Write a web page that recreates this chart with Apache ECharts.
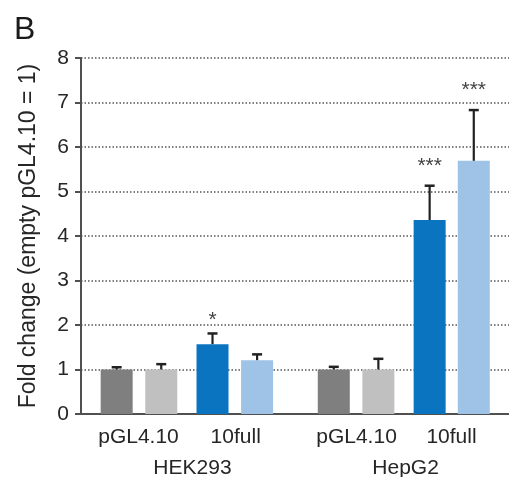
<!DOCTYPE html>
<html>
<head>
<meta charset="utf-8">
<script src="https://cdn.jsdelivr.net/npm/echarts@6/dist/echarts.min.js"></script>
<style>html,body{margin:0;padding:0;background:#fff;}#c{width:509px;height:477px;}</style>
</head>
<body>
<div id="c"></div>
<script>
// ---- data ----
const barPositions = [1, 2, 3.15, 4.15, 5.87, 6.87, 8.02, 9.01];
const barValues = [1.0, 1.0, 1.57, 1.21, 1.0, 1.0, 4.36, 5.69];
const errorTops = [1.05, 1.12, 1.81, 1.34, 1.06, 1.24, 5.13, 6.83];
const significance = ['', '', '*', '', '', '', '***', '***'];
const constructLabels = ['pGL4.10', '10full', 'pGL4.10', '10full'];
const constructPositions = [1.49, 3.67, 6.38, 8.51];
const cellLines = ['HEK293', 'HepG2'];
const cellLinePositions = [2.7, 7.48];
const yTicks = [0, 1, 2, 3, 4, 5, 6, 7, 8];

const barColors = ['#7f7f7f', '#c0c0c0', '#0a74c0', '#9fc2e7', '#7f7f7f', '#c0c0c0', '#0a74c0', '#9fc2e7'];
const FONT = 'Liberation Sans, Arial, sans-serif';
const AXIS_COLOR = '#505050';
const TEXT_COLOR = '#262626';

const chart = echarts.init(document.getElementById('c'), null, {renderer: 'canvas'});
chart.setOption({
  animation: false,
  backgroundColor: '#fff',
  title: {
    text: 'B', left: 9, top: 9,
    textStyle: {fontFamily: FONT, fontSize: 32, fontWeight: 'normal', color: '#1a1a1a'}
  },
  grid: {left: 81, right: 0, top: 58, bottom: 63},
  xAxis: {
    type: 'value', min: 0.2, max: 9.8,
    axisLine: {show: true, onZero: false, lineStyle: {color: AXIS_COLOR, width: 2}},
    axisTick: {show: false}, axisLabel: {show: false}, splitLine: {show: false}
  },
  yAxis: {
    type: 'value', min: yTicks[0], max: yTicks[yTicks.length - 1], interval: 1,
    name: 'Fold change (empty pGL4.10 = 1)',
    nameLocation: 'middle', nameGap: 41,
    nameTextStyle: {fontFamily: FONT, fontSize: 23, color: TEXT_COLOR},
    axisLine: {show: true, lineStyle: {color: AXIS_COLOR, width: 2}},
    axisTick: {show: true, length: 6, lineStyle: {color: AXIS_COLOR, width: 2}},
    axisLabel: {fontFamily: FONT, fontSize: 21, color: TEXT_COLOR, margin: 12},
    splitLine: {show: true, lineStyle: {color: '#555', width: 1.5, type: [1.5, 2]}}
  },
  series: [
    {
      type: 'bar', barWidth: 32, z: 2,
      data: barPositions.map((x, i) => ({value: [x, barValues[i]], itemStyle: {color: barColors[i]}}))
    },
    {
      type: 'custom', z: 3,
      data: barPositions.map((x, i) => [x, barValues[i], errorTops[i]]),
      renderItem: function (params, api) {
        const x = api.value(0);
        const base = api.coord([x, api.value(1)]);
        const top = api.coord([x, api.value(2)]);
        const children = [
          {type: 'line', shape: {x1: base[0], y1: base[1], x2: top[0], y2: top[1]}, style: {stroke: '#222', lineWidth: 2.2}},
          {type: 'line', shape: {x1: top[0] - 5, y1: top[1], x2: top[0] + 5, y2: top[1]}, style: {stroke: '#222', lineWidth: 2.5}}
        ];
        const s = significance[params.dataIndex];
        if (s) {
          children.push({type: 'text', style: {text: s, x: top[0], y: top[1] - (s.length === 1 ? 3 : 9), align: 'center', verticalAlign: 'bottom',
            font: '21px ' + FONT, fill: '#444'}});
        }
        return {type: 'group', children: children};
      }
    },
    {
      type: 'custom', z: 4, silent: true,
      data: constructPositions.map(x => [x, 0]),
      renderItem: function (params, api) {
        const p = api.coord([api.value(0), 0]);
        return {type: 'text', style: {text: constructLabels[params.dataIndex], x: p[0], y: p[1] + 23,
          align: 'center', verticalAlign: 'middle', font: '21px ' + FONT, fill: TEXT_COLOR}};
      }
    },
    {
      type: 'custom', z: 4, silent: true,
      data: cellLinePositions.map(x => [x, 0]),
      renderItem: function (params, api) {
        const p = api.coord([api.value(0), 0]);
        return {type: 'text', style: {text: cellLines[params.dataIndex], x: p[0], y: p[1] + 54,
          align: 'center', verticalAlign: 'middle', font: '21px ' + FONT, fill: TEXT_COLOR}};
      }
    }
  ]
});
</script>
</body>
</html>
